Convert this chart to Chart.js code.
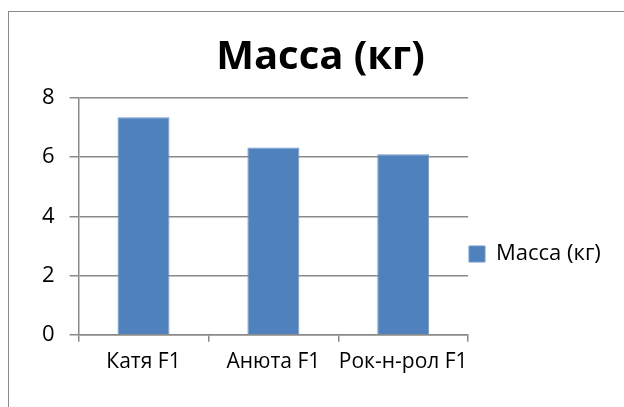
<!DOCTYPE html>
<html>
<head>
<meta charset="utf-8">
<script src="https://cdn.jsdelivr.net/npm/chart.js@4.4.1/dist/chart.umd.min.js"></script>
<style>
  html, body { margin: 0; padding: 0; background: #fff; overflow: hidden; }
  #wrap { position: relative; width: 624px; height: 407px; }
  #frame { position: absolute; left: 8px; top: 11px; width: 700px; height: 500px; border: 1px solid #8a8a8a; box-sizing: border-box; }
  canvas { position: absolute; left: 0; top: 0; }
</style>
</head>
<body>
<div id="wrap">
  <div id="frame"></div>
  <canvas id="myChart" width="624" height="407"></canvas>
</div>
<script>
var categories = ["Катя F1", "Анюта F1", "Рок-н-рол F1"];
var seriesName = "Масса (кг)";
var values = [7.35, 6.33, 6.1];
var yTicks = [0, 2, 4, 6, 8];

var fontFamily = "'Open Sans', 'Noto Sans', sans-serif";

// legend sits a bit lower and slightly further left than chart.js puts it
var legendPlace = {
    id: 'legendPlace',
    afterLayout: function(chart) {
        var lg = chart.legend;
        var pad = lg.options.labels.padding;
        var w = lg.right - lg.left;
        lg.left = 469 - pad;
        lg.right = lg.left + w;
        var dy = 254 - (lg.top + lg.bottom) / 2;
        lg.top += dy;
        lg.bottom += dy;
    }
};

var ctx = document.getElementById('myChart').getContext('2d');
var myChart = new Chart(ctx, {
    type: 'bar',
    data: {
        labels: categories,
        datasets: [
            {
                label: seriesName,
                data: values,
                backgroundColor: '#4f81bd',
                borderColor: '#6f97cb',
                borderWidth: 1,
                barPercentage: 0.4,
                categoryPercentage: 1
            }
        ]
    },
    plugins: [legendPlace],
    options: {
        responsive: false,
        animation: false,
        layout: { padding: { left: 27, right: 10, top: 34, bottom: 24 } },
        plugins: {
            title: {
                display: true,
                text: seriesName,
                color: '#000',
                font: { family: fontFamily, size: 40, weight: 'bold' },
                padding: { top: 0, bottom: 16 }
            },
            legend: {
                position: 'right',
                labels: {
                    color: '#000',
                    font: { family: fontFamily, size: 22 },
                    boxWidth: 16,
                    boxHeight: 16,
                    padding: 4
                }
            },
            tooltip: { enabled: false }
        },
        scales: {
            x: {
                grid: {
                    display: true,
                    drawOnChartArea: false,
                    drawTicks: true,
                    tickLength: 7,
                    color: '#8a8a8a',
                    lineWidth: 1.5
                },
                border: { color: '#8a8a8a', width: 1.5 },
                ticks: {
                    color: '#000',
                    font: { family: fontFamily, size: 21 },
                    padding: 8,
                    maxRotation: 0,
                    autoSkip: false
                }
            },
            y: {
                min: 0,
                max: 8,
                afterBuildTicks: function(axis) {
                    axis.ticks = yTicks.map(function(v) { return { value: v }; });
                },
                grid: {
                    color: '#8a8a8a',
                    lineWidth: 1.5,
                    tickLength: 9
                },
                border: { color: '#8a8a8a', width: 1.5 },
                ticks: { color: '#000', font: { family: fontFamily, size: 22 }, padding: 15 }
            }
        }
    }
});
</script>
</body>
</html>
